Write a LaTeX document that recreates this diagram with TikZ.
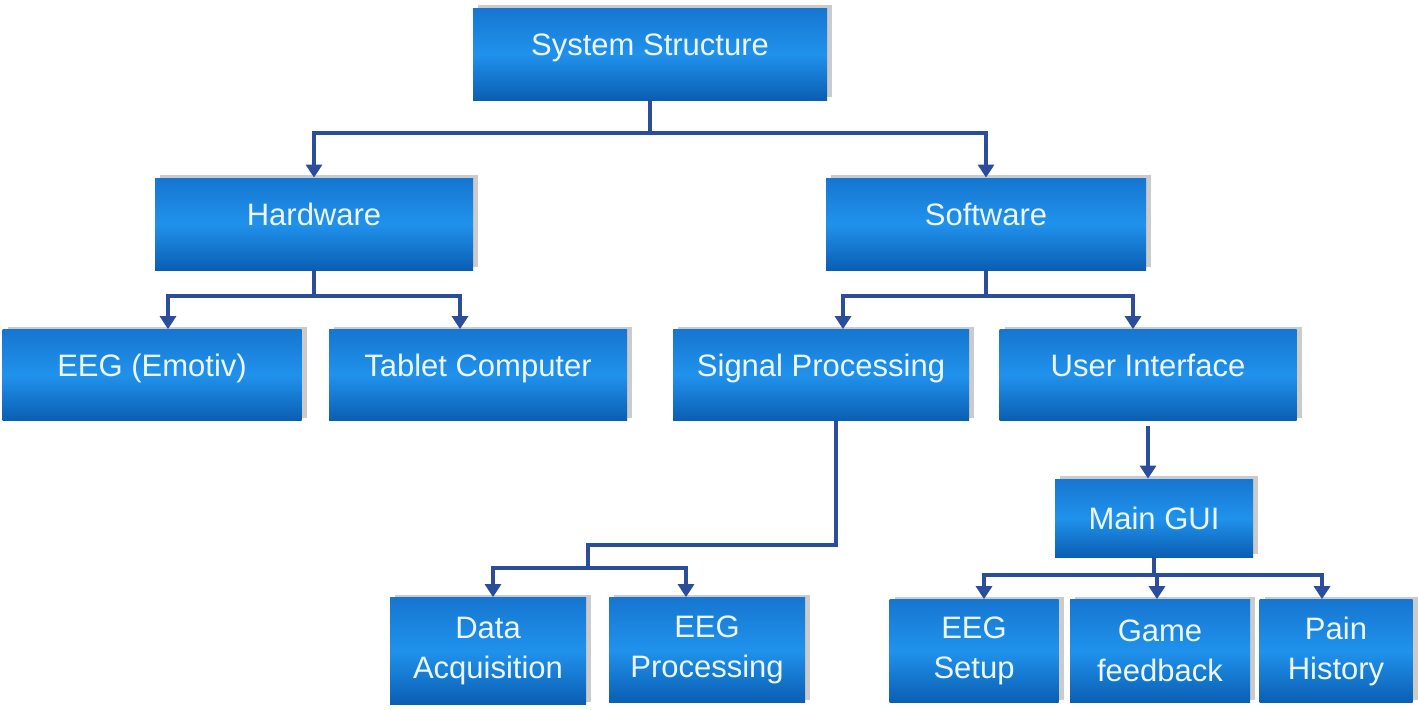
\documentclass[tikz,border=0pt]{standalone}
\usepackage{fontspec}
\setmainfont{Liberation Sans}
\usepackage{xcolor}
\usepackage{tikz}
\usetikzlibrary{arrows.meta}
\usetikzlibrary{shadows}
\definecolor{boxtop}{RGB}{22,118,208}
\definecolor{boxmid}{RGB}{32,146,236}
\definecolor{boxbot}{RGB}{10,94,178}
\definecolor{linkblue}{RGB}{44,76,156}
\definecolor{boxtext}{RGB}{236,246,255}

\begin{document}
\begin{tikzpicture}[x=0.5pt, y=-0.5pt,
  box/.style={rectangle, inner sep=0pt, align=center, top color=boxtop, bottom color=boxbot, middle color=boxmid,
    drop shadow={shadow xshift=2.5pt, shadow yshift=1.5pt, fill=black!45, opacity=0.45},
    text=boxtext, font=\fontsize{15.5}{20}\selectfont},
  oneline/.style={text height=11pt, text depth=10pt},
  link/.style={draw=linkblue, line width=2.2pt, line join=miter},
  linkarrow/.style={link, -{Triangle[width=8pt, length=6.5pt]}}]
  \useasboundingbox (0,0) rectangle (1418,709);
  \node[box, oneline, minimum width=177pt, minimum height=46pt] (sys) at (650,54) {System Structure};
  \node[box, oneline, minimum width=159pt, minimum height=46pt] (hw) at (314,224) {Hardware};
  \node[box, oneline, minimum width=160pt, minimum height=46pt] (sw) at (986,224) {Software};
  \node[box, oneline, minimum width=149.5pt, minimum height=45.5pt] (eeg) at (152,375) {EEG (Emotiv)};
  \node[box, oneline, minimum width=149pt, minimum height=45.5pt] (tab) at (478,375) {Tablet Computer};
  \node[box, oneline, minimum width=148pt, minimum height=45.5pt] (sp) at (821,375) {Signal Processing};
  \node[box, oneline, minimum width=148.5pt, minimum height=45.5pt] (ui) at (1148,375) {User Interface};
  \node[box, minimum width=99pt, minimum height=39pt] (gui) at (1154,518) {Main GUI};
  \node[box, minimum width=98pt, minimum height=53.5pt] (acq) at (488,651) {Data\\Acquisition};
  \node[box, minimum width=98pt, minimum height=52.5pt] (eegp) at (707,650) {EEG\\Processing};
  \node[box, minimum width=84.5pt, minimum height=51.5pt] (setup) at (974,651) {EEG\\Setup};
  \node[box, minimum width=90pt, minimum height=51.5pt] (game) at (1160,651) {Game\\feedback};
  \node[box, minimum width=76.5pt, minimum height=51.5pt] (pain) at (1336,651) {Pain\\History};

  \coordinate (j1) at (650,133);
  \coordinate (j2) at (314,296);
  \coordinate (j3) at (986,296);
  \coordinate (j4) at (836,545);
  \coordinate (j5) at (588,568);
  \coordinate (j6) at (1154,575);

  \draw[link] (sys) -- (j1);
  \draw[linkarrow] (j1) -| (hw);
  \draw[linkarrow] (j1) -| (sw);
  \draw[link] (hw) -- (j2);
  \draw[linkarrow] (j2) -| ([xshift=8pt]eeg.north);
  \draw[linkarrow] (j2) -| ([xshift=-9pt]tab.north);
  \draw[link] (sw) -- (j3);
  \draw[linkarrow] (j3) -| ([xshift=11pt]sp.north);
  \draw[linkarrow] (j3) -| ([xshift=-7.5pt]ui.north);
  \draw[link] (sp.south -| j4) -- (j4) -| (j5);
  \draw[linkarrow] (j5) -| ([xshift=2.5pt]acq.north);
  \draw[linkarrow] (j5) -| ([xshift=-10.5pt]eegp.north);
  \draw[linkarrow] ([yshift=-2.5pt]ui.south) -- (ui.south |- gui.north);
  \draw[link] (gui) -- (j6);
  \draw[linkarrow] (j6) -| ([xshift=5pt]setup.north);
  \draw[linkarrow] (j6) -| ([xshift=-1.5pt]game.north);
  \draw[linkarrow] (j6) -| ([xshift=-7pt]pain.north);
\end{tikzpicture}
\end{document}
